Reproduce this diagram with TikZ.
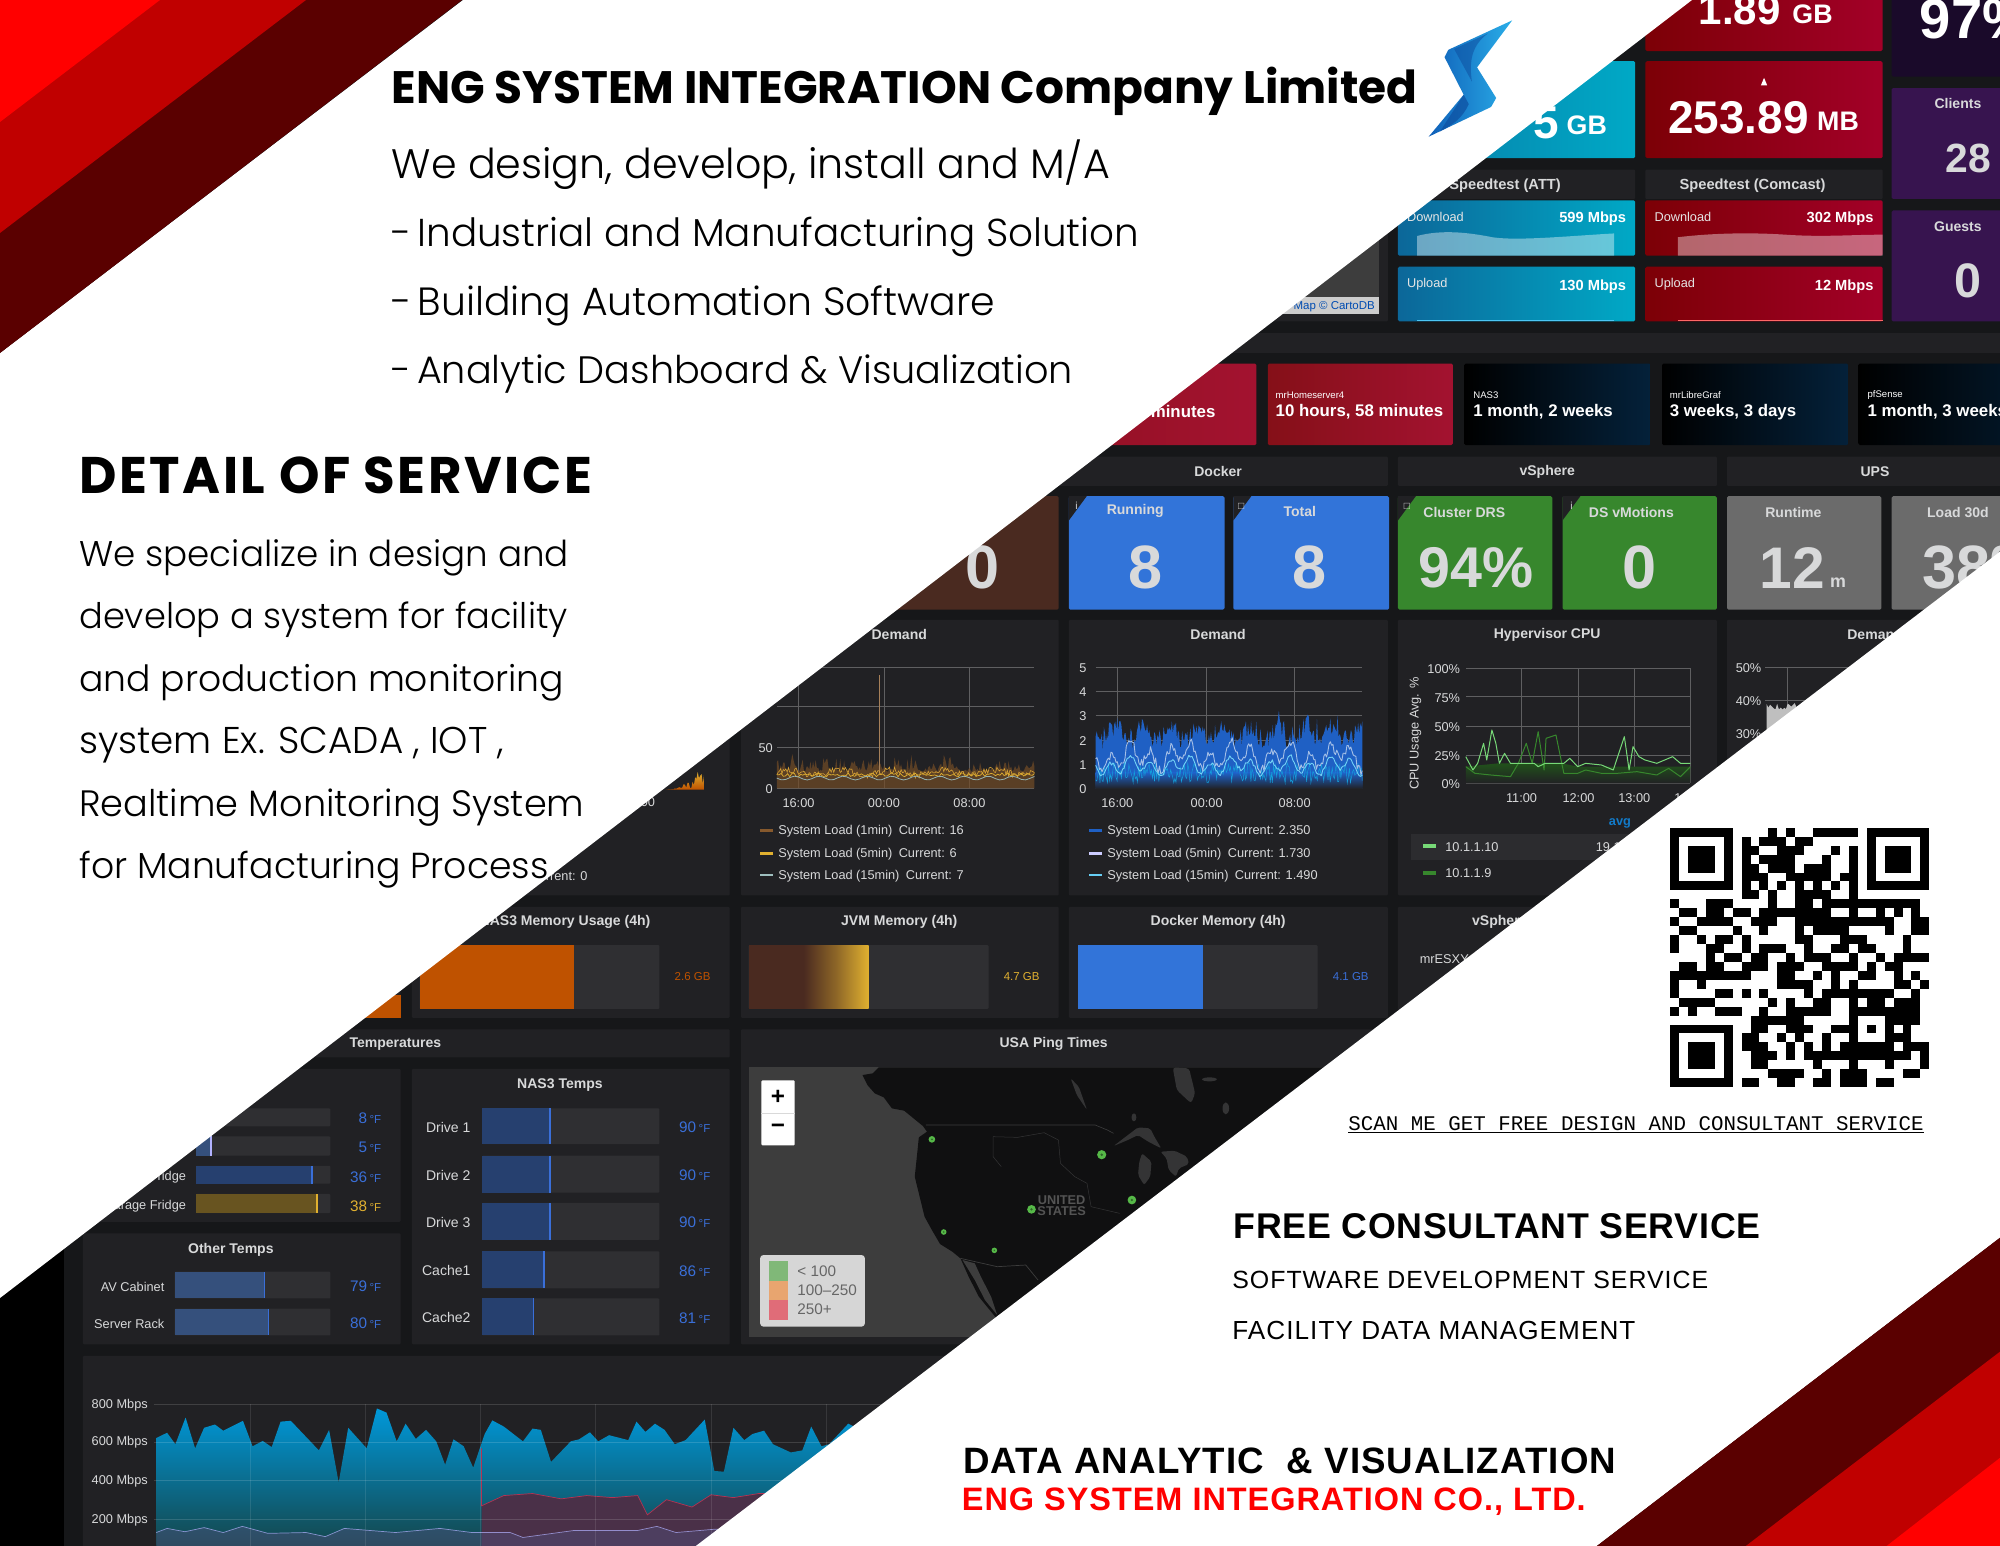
\documentclass[tikz,border=0pt]{standalone}
\usepackage{fontspec}
\usepackage{graphicx}
\setmainfont{Liberation Sans}
\newfontfamily\headf{Poppins}
\newfontfamily\lightf{Poppins Light}
\newfontfamily\monof{Liberation Mono}
\newcommand\fz[1]{\fontsize{\fpeval{#1*1.2755}}{\fpeval{#1*1.5}}\selectfont}
\newcommand\fitw[2]{\resizebox{\fpeval{#1*1.2755}pt}{!}{#2}}
\definecolor{pagebg}{HTML}{161719}
\definecolor{panelc}{HTML}{212124}
\definecolor{lbl}{HTML}{D8D9DA}
\definecolor{track}{HTML}{2F2F32}
\definecolor{gblue}{HTML}{3274D9}
\definecolor{ggreen}{HTML}{37872D}
\definecolor{ggrey}{HTML}{6B6B6B}
\definecolor{gbrown}{HTML}{4A2A20}
\definecolor{gorange}{HTML}{BF5200}
\definecolor{ggold}{HTML}{E0B030}
\definecolor{barblue}{HTML}{26406F}
\definecolor{barblueb}{HTML}{35507C}
\definecolor{vblue}{HTML}{3A6FD8}
\definecolor{redA}{HTML}{FF0000}
\definecolor{redB}{HTML}{C00000}
\definecolor{redC}{HTML}{5A0000}
\definecolor{tealL}{HTML}{0C6799}
\definecolor{tealR}{HTML}{00A9C6}
\definecolor{crL}{HTML}{7C0006}
\definecolor{crR}{HTML}{A30028}
\definecolor{upL}{HTML}{851018}
\definecolor{upR}{HTML}{A31230}
\definecolor{nightR}{HTML}{04213A}
\definecolor{purp}{HTML}{37144F}
\definecolor{purpD}{HTML}{1A0A2A}
\definecolor{mapsea}{HTML}{3D3D3D}
\definecolor{maplake}{HTML}{343435}
\definecolor{mapland}{HTML}{101011}
\definecolor{ptgreen}{HTML}{56B948}
\definecolor{loadblue}{HTML}{1F60C4}
\definecolor{netred}{HTML}{4A3048}
\definecolor{swG}{HTML}{80B878}
\definecolor{swO}{HTML}{E8A56F}
\definecolor{swR}{HTML}{E06C78}
\definecolor{logoA}{HTML}{0F5FB8}
\definecolor{logoB}{HTML}{2AAEE8}
\definecolor{logoC}{HTML}{0E4FA0}
\tikzset{
  t/.style={inner sep=0pt,text=lbl,font=\fz{11},yshift=-1pt},
  pn/.style={fill=panelc,rounded corners=1pt},
  tile/.style={rounded corners=1.5pt},
  grid/.style={draw=white!28!panelc,line width=.6pt},
  big/.style={inner sep=0pt,text=lbl,font=\bfseries\fz{48}},
  ttl/.style={inner sep=0pt,anchor=base west,text=black},
}
\newcommand\pan[4]{\fill[pn] (#1,#2) rectangle (#3,#4);}
\newcommand\barrow[7]{% x0 y0 xfill x1 y1 fillcolor markcolor
  \fill[track,rounded corners=1pt] (#1,#2) rectangle (#4,#5);
  \fill[#6] (#1,#2) rectangle (#3,#5);
  \fill[#7] (#3-1.2,#2) rectangle (#3,#5);}
\newcommand\finder[2]{\fill[black] (#1,#2) rectangle ++(7,7);\fill[white] (#1+1,#2+1) rectangle ++(5,5);\fill[black] (#1+2,#2+2) rectangle ++(3,3);}
\pgfmathsetseed{4242}
\begin{document}
\begin{tikzpicture}[x=1.27551pt,y=-1.27551pt]
\useasboundingbox (0,0) rectangle (1568,1211.28);
\clip (-5,-5) rectangle (1575,1220);
% page
\fill[black] (-5,-5) rectangle (1575,1220);
\fill[pagebg] (50,-5) rectangle (1575,1220);

% ---------- top tiles
\shade[tile,left color=tealL,right color=tealR] (1000,48) rectangle (1282,124);
\node[inner sep=0pt,text=white,font=\bfseries\fz{36}] at (1212,96) {5};
\node[inner sep=0pt,text=white,font=\bfseries\fz{21}] at (1244,98) {GB};
\shade[tile,left color=crL,right color=crR] (1290,-20) rectangle (1476,40);
\node[inner sep=0pt,text=white,font=\bfseries\fz{33}] at (1364,8) {1.89};
\node[inner sep=0pt,text=white,font=\bfseries\fz{21}] at (1421,11) {GB};
\shade[tile,left color=crL,right color=crR] (1290,48) rectangle (1476,124);
\fill[white] (1383,61) -- (1380.5,67) -- (1385.5,67) -- cycle;
\node[inner sep=0pt,text=white,font=\bfseries\fz{36}] at (1363,92) {253.89};
\node[inner sep=0pt,text=white,font=\bfseries\fz{21}] at (1441,95) {MB};
\fill[tile,fill=purpD] (1483,-20) rectangle (1600,60);
\node[inner sep=0pt,text=white,anchor=west,font=\bfseries\fz{44}] at (1505,15) {97\%};
\fill[tile,fill=purp] (1483,69) rectangle (1600,156);
\fill[tile,fill=purp] (1483,165) rectangle (1600,252);
\node[t,font=\bfseries\fz{11}] at (1535,80) {Clients};
\node[big,font=\bfseries\fz{32}] at (1543,124) {28};
\node[t,font=\bfseries\fz{11}] at (1535,177) {Guests};
\node[big,font=\bfseries\fz{38}] at (1543,220) {0};
% speedtest
\pan{1000}{133}{1282}{156}
\pan{1290}{133}{1476}{156}
\node[t,font=\bfseries\fz{11.5}] at (1180,145) {Speedtest (ATT)};
\node[t,font=\bfseries\fz{11.5}] at (1374,145) {Speedtest (Comcast)};
\shade[tile,left color=tealL,right color=tealR] (1096,157) rectangle (1282,200.5);
\shade[tile,left color=tealL,right color=tealR] (1096,209) rectangle (1282,252);
\shade[tile,left color=crL,right color=crR] (1290,157) rectangle (1476,200.5);
\shade[tile,left color=crL,right color=crR] (1290,209) rectangle (1476,252);
\fill[white,opacity=.4] (1111,200.5) -- (1111,185) .. controls (1130,180) and (1150,182) .. (1170,186) .. controls (1190,189) and (1230,185) .. (1265.5,183) -- (1265.5,200.5) -- cycle;
\fill[white,opacity=.4] (1315.5,200.5) -- (1315.5,186) .. controls (1340,183) and (1370,182) .. (1400,184) .. controls (1430,186) and (1450,184) .. (1476,184) -- (1476,200.5) -- cycle;
\fill[cyan!70!white] (1111,251) rectangle (1265.5,252);
\fill[red!60!white] (1315.5,251) rectangle (1476,252);
\foreach \xx/\a/\b/\c/\d in {1096/Download/599 Mbps/1282/169,1290/Download/302 Mbps/1476/169,1096/Upload/130 Mbps/1282/222,1290/Upload/12 Mbps/1476/222}{
  \node[t,text=white!90!black,anchor=west,font=\fz{10}] at (\xx+7,\d) {\a};
  \node[t,text=white,anchor=east,font=\bfseries\fz{11.5}] at (\c-7,\d+2) {\b};
}
% map tile top
\pan{850}{133}{1088}{252}
\fill[mapsea] (900,140) rectangle (1081,246);
\fill[white!80!black] (990,233) rectangle (1081,246);
\node[t,anchor=east,font=\fz{9},text=teal!60!blue] at (1078,240) {Map © CartoDB};

% ---------- uptime row
\fill[panelc] (700,261) rectangle (1575,277);
\shade[tile,left color=upL,right color=upR] (700,285) rectangle (985,349);
\shade[tile,left color=upL,right color=upR] (994,285) rectangle (1139,349);
\foreach \xx/\xb in {1148/1294,1303/1449,1457/1640}{
  \shade[tile,left color=black,right color=nightR] (\xx,285) rectangle (\xb,349);}
\node[t,anchor=east,text=white,font=\bfseries\fz{13.2}] at (953,322) {minutes};
\foreach \xx/\a/\b in {1000/mrHomeserver4/{10 hours, 58 minutes},1155/NAS3/{1 month, 2 weeks},1309/mrLibreGraf/{3 weeks, 3 days},1464/pfSense/{1 month, 3 weeks}}{
  \node[t,anchor=west,text=white,font=\fz{7.5}] at (\xx,309) {\a};
  \node[t,anchor=west,text=white,font=\bfseries\fz{13.2}] at (\xx,322) {\b};
}
% ---------- header row
\pan{700}{358}{1088}{381}
\pan{1096}{358}{1346}{381}
\pan{1354}{358}{1640}{381}
\node[t,font=\bfseries\fz{11}] at (955,369) {Docker};
\node[t,font=\bfseries\fz{11}] at (1213,369) {vSphere};
\node[t,font=\bfseries\fz{11}] at (1470,369) {UPS};
% ---------- stat tiles
\fill[tile,gbrown] (600,389) rectangle (830,478);
\foreach \xa/\xb/\col in {838/960/gblue,967/1089/gblue,1096/1217/ggreen,1225/1346/ggreen,1354/1475/ggrey,1483/1640/ggrey}{
  \fill[tile,\col] (\xa,389) rectangle (\xb,478);}
\foreach \xa in {838,967,1096,1225}{\fill[panelc] (\xa,389) -- (\xa+14,389) -- (\xa,408) -- cycle;}
\node[t,font=\fz{8}] at (844,396) {i};
\node[t,font=\fz{8}] at (973,396) {\symbol{"25A1}};
\node[t,font=\fz{8}] at (1103,396) {\symbol{"25A1}};
\node[t,font=\fz{8}] at (1232,396) {i};
\node[t,font=\bfseries\fz{11}] at (890,400) {Running};
\node[t,font=\bfseries\fz{11}] at (1019,400) {Total};
\node[t,font=\bfseries\fz{11}] at (1148,401) {Cluster DRS};
\node[t,font=\bfseries\fz{11}] at (1279,401) {DS vMotions};
\node[t,font=\bfseries\fz{11}] at (1406,401) {Runtime};
\node[t,font=\bfseries\fz{11}] at (1535,401) {Load 30d};
\node[big] at (770,445) {0};
\node[big] at (898,445) {8};
\node[big] at (1027,445) {8};
\node[big,font=\bfseries\fz{45}] at (1157,445) {94\%};
\node[big] at (1285,445) {0};
\node[big,font=\bfseries\fz{46}] at (1405,445) {12};
\node[t,font=\bfseries\fz{14}] at (1441,456) {m};
\node[big,anchor=west] at (1507,445) {38\%};

% ---------- graph row
\pan{300}{486}{572}{702}
\pan{581}{486}{830}{702}
\pan{838}{486}{1088}{702}
\pan{1096}{486}{1346}{702}
\pan{1354}{486}{1640}{702}
\node[t,font=\bfseries\fz{11}] at (705,497) {Demand};
\node[t,font=\bfseries\fz{11}] at (955,497) {Demand};
\node[t,font=\bfseries\fz{11}] at (1213,497) {Hypervisor CPU};
\node[t,font=\bfseries\fz{11}] at (1470,497) {Demand};
% p0 scraps
\shade[top color=ggold,bottom color=gorange] (522,619) \foreach \i in {0,...,30}{ -- ({522+\i},{619-(\i/30)*(\i/30)*(3+rnd*17)})} -- (552,619) -- cycle;
\node[t,font=\fz{10}] at (508,628) {00};
\node[t,anchor=west,font=\fz{10}] at (415,686) {Current: 0};
% p1
\foreach \yy in {523,554,586,618}{\draw[grid] (609,\yy) -- (811,\yy);}
\foreach \xx in {626,693,760}{\draw[grid] (\xx,523) -- (\xx,618);}
\node[t,anchor=east,font=\fz{10}] at (606,586) {50};
\node[t,anchor=east,font=\fz{10}] at (606,618) {0};
\fill[brown!60!black,opacity=.7] (609,618) -- plot[domain=609:811,samples=200] (\x,{605-rnd*rnd*15}) -- (811,618) -- cycle;
\draw[brown!60!gray,line width=.5pt] (689,607) -- (689,529);
\draw[ggold!70!brown,line width=.6pt] plot[domain=609:811,samples=200] (\x,{608-rnd*5-2*sin((\x-609)*9)});
\draw[ggold,line width=.7pt] plot[domain=609:811,samples=120] (\x,{609-rnd*3});
\draw[gray!60!teal!60!white,line width=.8pt] plot[domain=609:811,samples=60] (\x,{610+1.5*sin((\x-609)*19)});
\foreach \xx/\l in {626/16:00,693/00:00,760/08:00}{\node[t,font=\fz{10}] at (\xx,629) {\l};}
\foreach \yy/\c/\l in {651/brown!70!black/{System Load (1min)\enspace Current: 16},669/ggold/{System Load (5min)\enspace Current: 6},686/gray!50!teal!50!white/{System Load (15min)\enspace Current: 7}}{
  \fill[\c] (596,\yy-1) rectangle (606,\yy+1);
  \node[t,anchor=west,font=\fz{10}] at (610,\yy) {\l};}
% p2
\foreach \v/\yy in {5/523,4/542,3/561,2/580,1/599,0/618}{
  \draw[grid] (859,\yy) -- (1068,\yy);
  \node[t,font=\fz{10}] at (849,\yy) {\v};}
\foreach \xx in {876,946,1015}{\draw[grid] (\xx,523) -- (\xx,618);}
\fill[loadblue] (859,618) -- plot[domain=859:1068,samples=260] (\x,{584-rnd*16-rnd*rnd*rnd*rnd*22+5*sin((\x-859)*17)}) -- (1068,618) -- cycle;
\shade[top color=loadblue,bottom color=panelc,opacity=.95] (859,606) rectangle (1068,618);
\draw[loadblue!60!cyan,line width=.5pt] plot[domain=859:1068,samples=250] (\x,{614-rnd*16});
\draw[white!60!loadblue,line width=.9pt,line join=round] plot[domain=859:1068,samples=210] (\x,{595-7*rnd+7*sin((\x-859)*23)+5*sin((\x-859)*9)+3*rnd});
\draw[cyan!55!white,line width=.9pt,line join=round] plot[domain=859:1068,samples=170] (\x,{602-3*rnd+5*sin((\x-859)*23)+3*sin((\x-859)*9)});
\foreach \xx/\l in {876/16:00,946/00:00,1015/08:00}{\node[t,font=\fz{10}] at (\xx,629) {\l};}
\foreach \yy/\c/\l in {651/loadblue/{System Load (1min)\enspace Current: 2.350},669/white!80!blue/{System Load (5min)\enspace Current: 1.730},686/cyan!60!white/{System Load (15min)\enspace Current: 1.490}}{
  \fill[\c] (854,\yy-1) rectangle (864,\yy+1);
  \node[t,anchor=west,font=\fz{10}] at (868,\yy) {\l};}
% p3 (zoom coordinates)
\begin{scope}[shift={(1081.9,470.4)},xscale=.31,yscale=.2613]
  \foreach \yy in {205,290,378,465,550}{\draw[grid] (217,\yy) -- (785,\yy);}
  \foreach \xx in {358,502,643,785}{\draw[grid] (\xx,205) -- (\xx,550);}
  \shade[top color=ggreen!60!black,bottom color=panelc] (217,500) -- (300,490) -- (400,490) -- (418,490) -- (460,490) -- (500,500) -- (785,500) -- (785,550) -- (217,550) -- cycle;
  \draw[ggreen,line width=1pt,line join=round] (217,500)--(240,520)--(280,525)--(330,530)--(350,490)--(370,430)--(385,490)--(400,395)--(415,510)--(420,415)--(445,405)--(465,520)--(500,520)--(520,510)--(560,520)--(600,520)--(650,515)--(700,525)--(730,505)--(760,530)--(785,500);
  \draw[green!45!white!85!black,line width=1pt,line join=round] (217,470)--(235,510)--(247,490)--(262,430)--(270,480)--(283,390)--(293,430)--(302,490)--(315,460)--(330,490)--(350,490)--(370,490)--(390,490)--(400,500)--(418,490)--(440,490)--(465,490)--(480,475)--(500,500)--(520,490)--(560,495)--(590,510)--(618,410)--(630,510)--(640,440)--(655,470)--(670,480)--(700,490)--(740,470)--(760,490)--(785,490);
  \foreach \yy/\l in {205/100\%,290/75\%,378/50\%,465/25\%,548/0\%}{\node[t,anchor=east,font=\fz{10}] at (203,\yy) {\l};}
  \foreach \xx/\l in {358/11:00,502/12:00,643/13:00,785/14:00}{\node[t,font=\fz{10}] at (\xx,590) {\l};}
  \node[t,rotate=90,font=\fz{10}] at (90,398) {CPU Usage Avg. \%};
\end{scope}
\fill[white!5!panelc] (1106,654) rectangle (1340,674);
\fill[green!45!white!85!black] (1116,662) rectangle (1126,665);
\fill[ggreen] (1116,683) rectangle (1126,686);
\node[t,anchor=west,font=\fz{10}] at (1133,663) {10.1.1.10};
\node[t,anchor=west,font=\fz{10}] at (1133,684) {10.1.1.9};
\node[t,font=\bfseries\fz{10},text=cyan!60!blue] at (1270,645) {avg};
\node[t,anchor=west,font=\fz{10}] at (1251,663) {19.1\%};
% p4
\foreach \yy in {523,549,575}{\draw[grid] (1384,\yy) -- (1575,\yy);}
\draw[grid] (1401,523) -- (1401,620);
\foreach \yy/\l in {523/50\%,549/40\%,575/30\%}{\node[t,anchor=east,font=\fz{10}] at (1381,\yy) {\l};}
\fill[white!75!black] (1385,575) -- plot[domain=1385:1425,samples=30] (\x,{551+rnd*6}) -- (1425,575) -- cycle;

% ---------- memory row
\pan{200}{711}{314}{798}
\fill[gorange] (200,780) rectangle (314,798);
\pan{323}{711}{572}{798}
\pan{581}{711}{830}{798}
\pan{838}{711}{1088}{798}
\pan{1096}{711}{1346}{798}
\node[t,font=\bfseries\fz{11}] at (443,722) {NAS3 Memory Usage (4h)};
\node[t,font=\bfseries\fz{11}] at (705,722) {JVM Memory (4h)};
\node[t,font=\bfseries\fz{11}] at (955,722) {Docker Memory (4h)};
\node[t,font=\bfseries\fz{11},anchor=west] at (1154,722) {vSphere};
\node[t,anchor=west,font=\fz{10}] at (1113,751) {mrESXY};
\fill[track,rounded corners=1pt] (329,741) rectangle (517,791);
\fill[track,rounded corners=1pt] (587,741) rectangle (775,791);
\fill[track,rounded corners=1pt] (845,741) rectangle (1033,791);
\fill[gorange] (329,741) rectangle (450,791);
\shade[left color=gbrown,right color=ggold,middle color=gbrown!55!ggold] (630,741) rectangle (681,791);
\fill[gbrown] (587,741) rectangle (630.5,791);
\fill[gblue] (845,741) rectangle (943,791);
\node[t,font=\fz{9},text=gorange] at (543,765) {2.6 GB};
\node[t,font=\fz{9},text=ggold] at (801,765) {4.7 GB};
\node[t,font=\fz{9},text=vblue] at (1059,765) {4.1 GB};

% ---------- temperature rows
\pan{65}{807}{572}{829}
\node[t,font=\bfseries\fz{11}] at (310,818) {Temperatures};
\pan{581}{807}{1088}{1054}
\node[t,font=\bfseries\fz{11}] at (826,818) {USA Ping Times};
\pan{65}{838}{314}{958}
\pan{65}{967}{314}{1054}
\pan{323}{838}{572}{1054}
\node[t,font=\bfseries\fz{11}] at (439,850) {NAS3 Temps};
\node[t,font=\bfseries\fz{11}] at (181,979) {Other Temps};
\barrow{154}{869}{154}{259}{883}{barblue}{vblue}
\barrow{154}{891}{166}{259}{906}{barblueb}{white!70!blue}
\barrow{154}{914}{245}{259}{928}{barblue}{vblue}
\barrow{154}{936}{249}{259}{951}{ggold!45!black!90!gray}{ggold}
\node[t,anchor=east,font=\fz{10}] at (146,922) {Fridge};
\node[t,anchor=east,font=\fz{10}] at (146,945) {Garage Fridge};
\foreach \yy/\v/\c in {876/8/vblue,899/5/vblue,922/36/vblue,945/38/ggold}{
  \node[t,anchor=east,text=\c,font=\fz{12}] at (299,\yy) {\v\,{\fz{9}°F}};}
\barrow{137}{997}{208}{259}{1018}{barblueb}{vblue}
\barrow{137}{1026}{211}{259}{1047}{barblueb}{vblue}
\node[t,anchor=east,font=\fz{10}] at (129,1008) {AV Cabinet};
\node[t,anchor=east,font=\fz{10}] at (129,1037) {Server Rack};
\node[t,anchor=east,text=vblue,font=\fz{12}] at (299,1008) {79\,{\fz{9}°F}};
\node[t,anchor=east,text=vblue,font=\fz{12}] at (299,1037) {80\,{\fz{9}°F}};
\foreach \ya/\yb/\xf/\n/\v in {869/897/432/Drive 1/90,906/935/432/Drive 2/90,943/972/432/Drive 3/90,981/1010/427/Cache1/86,1018/1047/419/Cache2/81}{
  \barrow{378}{\ya}{\xf}{517}{\yb}{barblue}{vblue}
  \node[t,anchor=east,font=\fz{11}] at (369,{(\ya+\yb)/2}) {\n};
  \node[t,anchor=east,text=vblue,font=\fz{12}] at (557,{(\ya+\yb)/2}) {\v\,{\fz{9}°F}};}
% map
\begin{scope}[shift={(580.2,799.7)},xscale=.32,yscale=.2613]
  \fill[mapsea] (22,142) rectangle (1500,950);
  \fill[mapland] (340,142) -- (325,160) -- (300,165) -- (312,195) -- (330,220) -- (352,232) -- (372,265) -- (402,272) -- (430,300) -- (448,318) -- (458,335) -- (438,352) -- (434,400) -- (428,470) -- (440,530) -- (452,590) -- (470,630) -- (490,672) -- (520,695) -- (540,715) -- (560,770) -- (585,830) -- (625,890) -- (700,950) -- (1500,950) -- (1500,142) -- cycle;
  \fill[mapsea] (545,720) -- (575,730) -- (590,770) -- (615,830) -- (630,885) -- (600,840) -- (575,780) -- cycle;
  \fill[maplake,rounded corners=3pt] (1060,142) -- (1100,145) -- (1115,220) -- (1105,250) -- (1070,210) -- cycle;
  \fill[maplake,rounded corners=2pt] (810,175) -- (830,200) -- (850,270) -- (825,225) -- cycle;
  \fill[maplake,rounded corners=2pt] (915,378) -- (945,350) -- (975,322) -- (1005,325) -- (1015,350) -- (1032,385) -- (1000,365) -- (975,345) -- (950,360) -- cycle;
  \fill[maplake,rounded corners=2pt] (985,400) -- (1008,425) -- (1005,470) -- (990,495) -- (975,465) -- (978,425) -- cycle;
  \fill[maplake,rounded corners=2pt] (1030,395) -- (1065,392) -- (1095,410) -- (1100,432) -- (1075,445) -- (1068,470) -- (1050,450) -- (1045,415) -- cycle;
  \fill[maplake] (965,292) ellipse (6 and 12);
  \fill[maplake] (1150,178) ellipse (18 and 6);
  \fill[maplake] (1190,265) ellipse (8 and 18);
  \draw[mapsea,line width=.6pt] (455,315) -- (870,315) -- (900,330) -- (915,340);
  \draw[maplake,line width=.5pt] (620,350) -- (680,352) -- (745,338) -- (780,360) -- (785,430) -- (820,470) -- (850,490) -- (860,560) -- (930,580);
  \draw[maplake,line width=.5pt] (620,350) -- (620,410) -- (640,440);
  \draw[mapsea,line width=.7pt] (540,715) -- (630,740) -- (700,735) -- (730,780);
  \foreach \xx/\yy/\r in {470/358/2.6,886/404/3.6,960/540/3.4,714/568/3.4,499/636/2.2,623/691/2.2}{
    \fill[ptgreen] (\xx,\yy) ellipse ({\r/.32} and {\r/.2613});
    \fill[ptgreen!55!black] (\xx,\yy) ellipse ({.3*\r/.32} and {.3*\r/.2613});}
  \node[t,text=white!33!black,font=\bfseries\fz{10}] at (788,536) {UNITED};
  \node[t,text=white!33!black,font=\bfseries\fz{10}] at (788,571) {STATES};
\end{scope}
\fill[white,rounded corners=1pt] (597,847) rectangle (623,898);
\draw[white!85!black,line width=.6pt] (597,872.5) -- (623,872.5);
\node[t,text=black,font=\bfseries\fz{19}] at (610,859.5) {+};
\node[t,text=black,font=\bfseries\fz{19}] at (610,884.5) {\symbol{"2212}};
\fill[white!84!black,rounded corners=3pt] (596,984) rectangle (678,1040);
\fill[swG] (603,989) rectangle (618,1004);
\fill[swO] (603,1004) rectangle (618,1019.5);
\fill[swR] (603,1019.5) rectangle (618,1035);
\node[t,anchor=west,text=black!60,font=\fz{12}] at (625,996) {< 100};
\node[t,anchor=west,text=black!60,font=\fz{12}] at (625,1011) {100–250};
\node[t,anchor=west,text=black!60,font=\fz{12}] at (625,1026) {250+};

% ---------- bottom chart
\pan{65}{1063}{1000}{1300}
\begin{scope}[shift={(0,705.6)},xscale=.5,yscale=.322]
  \shade[top color=cyan!70!blue!85!black,bottom color=teal!35!panelc,shading angle=0] (245,1590) -- (245,1310) -- (262,1297) -- (275,1325) -- (291,1260) -- (306,1335) -- (320,1285) -- (337,1277) -- (350,1292) -- (381,1268) -- (396,1330) -- (412,1317) -- (426,1332) -- (440,1270) -- (456,1268) -- (500,1340) -- (516,1290) -- (531,1418) -- (546,1285) -- (575,1335) -- (591,1238) -- (606,1248) -- (622,1318) -- (636,1275) -- (652,1312) -- (668,1290) -- (684,1318) -- (698,1375) -- (711,1313) -- (727,1330) -- (742,1382) -- (760,1300) -- (772,1267) -- (790,1282) -- (820,1318) -- (835,1287) -- (848,1290) -- (864,1368) -- (895,1318) -- (908,1313) -- (925,1296) -- (938,1318) -- (955,1303) -- (985,1315) -- (998,1270) -- (1012,1295) -- (1027,1275) -- (1042,1290) -- (1058,1325) -- (1075,1315) -- (1105,1265) -- (1120,1390) -- (1135,1392) -- (1150,1285) -- (1167,1315) -- (1180,1300) -- (1198,1292) -- (1212,1325) -- (1240,1345) -- (1258,1340) -- (1272,1282) -- (1288,1330) -- (1300,1325) -- (1330,1275) -- (1350,1290) -- (1400,1300) -- (1450,1590) -- cycle;
  \fill[netred] (755,1590) -- (755,1475) -- (790,1450) -- (835,1445) -- (880,1458) -- (920,1450) -- (960,1455) -- (1000,1450) -- (1015,1497) -- (1045,1460) -- (1085,1478) -- (1115,1448) -- (1150,1455) -- (1190,1445) -- (1300,1445) -- (1300,1590) -- cycle;
  \draw[crR!80!white,line width=.7pt] (755,1335) -- (755,1475) -- (790,1450) -- (835,1445) -- (880,1458) -- (920,1450) -- (960,1455) -- (1000,1450) -- (1015,1497) -- (1045,1460) -- (1085,1478) -- (1115,1448) -- (1150,1455) -- (1190,1445) -- (1300,1445);
  \fill[white!60!blue!40!panelc,opacity=.45] (245,1590) -- (245,1540) -- (262,1530) -- (290,1538) -- (320,1528) -- (350,1540) -- (380,1525) -- (420,1542) -- (480,1540) -- (510,1550) -- (540,1530) -- (620,1540) -- (690,1530) -- (740,1540) -- (800,1540) -- (820,1552) -- (900,1535) -- (1000,1535) -- (1030,1525) -- (1060,1540) -- (1120,1532) -- (1300,1540) -- (1300,1590) -- cycle;
  \draw[white!70!blue,opacity=.7,line width=.7pt] (245,1540) -- (262,1530) -- (290,1538) -- (320,1528) -- (350,1540) -- (380,1525) -- (420,1542) -- (480,1540) -- (510,1550) -- (540,1530) -- (620,1540) -- (690,1530) -- (740,1540) -- (800,1540) -- (820,1552) -- (900,1535) -- (1000,1535) -- (1030,1525) -- (1060,1540) -- (1120,1532) -- (1300,1540);
  \foreach \yy in {1227,1320,1413,1508}{\draw[white,opacity=.14,line width=.6pt] (241,\yy) -- (1400,\yy);}
  \foreach \xx in {392,572,753,934,1116,1296}{\draw[white,opacity=.1,line width=.6pt] (\xx,1227) -- (\xx,1590);}
  \foreach \yy/\l in {1227/800,1318/600,1412/400,1507/200}{\node[t,anchor=east,font=\fz{10}] at (232,\yy) {\l\ Mbps};}
\end{scope}

% ---------- white shapes and red bands (reference pixel coordinates)
\begin{scope}[x=1pt,y=-1pt]
  \fill[white] (463,0) -- (1692,0) -- (0,1298) -- (0,353) -- cycle;
  \fill[white] (2010,544) -- (684,1555) -- (1585,1555) -- (2010,1230) -- cycle;
  \fill[redC] (0,0) -- (462,0) -- (0,353) -- cycle;
  \fill[redB] (0,0) -- (306,0) -- (0,233) -- cycle;
  \fill[redA] (0,0) -- (160,0) -- (0,122) -- cycle;
  \fill[redC] (2010,1230) -- (1585,1555) -- (2010,1555) -- cycle;
  \fill[redB] (2010,1344) -- (1734,1555) -- (2010,1555) -- cycle;
  \fill[redA] (2010,1450) -- (1875,1555) -- (2010,1555) -- cycle;
\end{scope}

% ---------- logo
\begin{scope}[shift={(784,0)},xscale=.5,yscale=.32]
  \shade[left color=logoA,right color=logoB] (803,50) -- (748,165) -- (778,240) -- (770,262) -- (672,335) -- (727,232) -- (697,140) -- (703,122) -- cycle;
  \fill[logoC,opacity=.55] (765,82) .. controls (740,110) and (735,150) .. (740,200) -- (712,120) -- cycle;
  \fill[logoC,opacity=.7] (735,255) .. controls (725,290) and (710,305) .. (690,322) -- (727,232) -- cycle;
\end{scope}

% ---------- heading texts
\node[ttl,font=\headf\bfseries] at (307,81) {\fitw{804}{\fz{32}ENG SYSTEM INTEGRATION Company Limited}};
\node[ttl,font=\lightf] at (307,140) {\fitw{563}{\fz{31}We design, develop, install and M/A}};
\node[ttl,font=\lightf] at (307,193.5) {\fitw{586}{\fz{31}-\kern-.13em\ Industrial and Manufacturing Solution}};
\node[ttl,font=\lightf] at (307,247) {\fitw{473}{\fz{31}-\kern-.13em\ Building Automation Software}};
\node[ttl,font=\lightf] at (307,301) {\fitw{534}{\fz{31}-\kern-.13em\ Analytic Dashboard \& Visualization}};
\node[ttl,font=\headf\bfseries] at (62,387) {\fitw{402}{\fz{34}\addfontfeatures{LetterSpace=5}DETAIL OF SERVICE}};
\foreach \yy/\w/\l in {444/384/We specialize in design and,493/383/develop a system for facility,542/380/and production monitoring,591/333/{system Ex. SCADA , IOT ,},640/396/Realtime Monitoring System,689/368/for Manufacturing Process}{
  \node[ttl,font=\lightf] at (62,\yy) {\fitw{\w}{\fz{28}\l}};}
% ---------- QR
\begin{scope}[shift={(1309.3,649)},x=8.941pt,y=-8.941pt]
  \finder{0}{0}\finder{22}{0}\finder{0}{22}
  \foreach \r/\l in {0/{11/1,13/1,16/5},1/{8/1,10/3,14/2},2/{8/2,12/3,18/1,20/1},3/{8/1,10/4,17/1,20/1},4/{8/2,11/3,15/3,20/1},5/{8/3,13/5,19/2},6/{8/1,10/1,12/1,14/1,16/1,18/1,20/1},7/{8/2,11/1,14/4,20/1},8/{0/1,4/3,11/1,14/2,17/11},9/{1/2,4/2,7/2,10/8,20/1,23/1,25/1,27/1},10/{0/1,3/4,9/3,14/11,27/2},11/{1/2,7/1,10/1,14/1,16/4,24/1,27/2},12/{0/1,3/1,5/2,8/1,14/2,19/3,26/1},13/{0/1,4/2,8/1,10/3,15/1,18/2,21/2,26/1},14/{4/1,6/2,9/2,13/1,15/3,20/1,23/1,25/4},15/{1/2,4/2,8/3,12/3,17/4,22/1,24/2},16/{0/9,12/2,16/1,18/1,21/2,25/1,27/1},17/{0/1,3/1,12/4,18/1,20/1,25/2,28/1},18/{0/1,5/2,8/1,10/1,15/1,17/8,27/1},19/{1/4,11/1,13/1,16/2,20/1,22/2,25/3},20/{0/1,2/1,5/3,10/1,13/5,20/8},21/{9/6,20/1,24/4},22/{9/2,13/3,18/3,22/1,24/1,26/1},23/{8/2,12/1,14/1,17/1,20/1,24/3},24/{8/3,13/1,15/1,17/1,19/6,26/3},25/{9/3,13/1,15/12,28/1},26/{9/2,16/1,20/1,24/1,28/1},27/{11/4,17/1,19/3,26/2},28/{8/2,12/2,16/2,19/3,23/2}}{
    \foreach \s/\n in \l {\fill[black] (\s,\r) rectangle ++(\n,1);}}
\end{scope}
\node[ttl,font=\monof] at (1057,886) {\fitw{451}{\fz{16}\underline{SCAN ME GET FREE DESIGN AND CONSULTANT SERVICE}}};
\node[ttl,font=\bfseries] at (967,971) {\fitw{413}{\fz{27}\addfontfeatures{LetterSpace=2}FREE CONSULTANT SERVICE}};
\node[ttl] at (966,1010.5) {\fitw{373}{\fz{20}\addfontfeatures{LetterSpace=4}SOFTWARE DEVELOPMENT SERVICE}};
\node[ttl] at (966,1050) {\fitw{316}{\fz{20}\addfontfeatures{LetterSpace=4}FACILITY DATA MANAGEMENT}};
\node[ttl,font=\bfseries] at (755,1155) {\fitw{512}{\fz{27}\addfontfeatures{LetterSpace=3}DATA ANALYTIC\ \ \& VISUALIZATION}};
\node[ttl,font=\bfseries,text=redA] at (754,1184.5) {\fitw{489}{\fz{24}\addfontfeatures{LetterSpace=3}ENG SYSTEM INTEGRATION CO., LTD.}};
\end{tikzpicture}
\end{document}
